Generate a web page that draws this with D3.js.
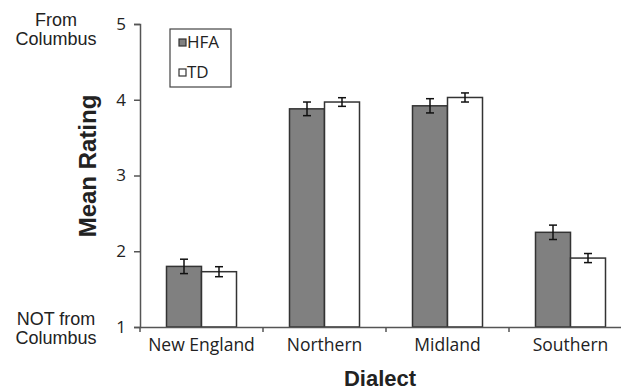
<!DOCTYPE html>
<html>
<head>
<meta charset="utf-8">
<script src="https://cdn.jsdelivr.net/npm/d3@7"></script>
<style>
  body { margin: 0; background: #fff; }
  svg { display: block; }
  text { font-family: "Open Sans", sans-serif; fill: #222; }
</style>
</head>
<body>
<svg id="chart" width="621" height="390"></svg>
<script>
const dialects = ["New England", "Northern", "Midland", "Southern"];
const groups = ["HFA", "TD"];
const hfaMeans = [1.80, 3.88, 3.92, 2.25];
const hfaErrors = [0.095, 0.09, 0.094, 0.095];
const tdMeans = [1.73, 3.97, 4.03, 1.91];
const tdErrors = [0.066, 0.057, 0.06, 0.06];
const yTicks = [1, 2, 3, 4, 5];

const fills = { HFA: "#808080", TD: "#ffffff" };

const svg = d3.select("#chart");

// scales
const x0 = d3.scaleBand().domain(dialects).range([140, 632]);
const x1 = d3.scaleBand().domain(groups).range([26.5, 96.5]);
const y = d3.scaleLinear().domain([1, 5]).range([327, 24]);

const rows = [];
dialects.forEach((d, i) => {
    rows.push({ dialect: d, group: "HFA", mean: hfaMeans[i], err: hfaErrors[i] });
    rows.push({ dialect: d, group: "TD", mean: tdMeans[i], err: tdErrors[i] });
});

// bars
svg.append("g").selectAll("rect")
    .data(rows)
    .join("rect")
    .attr("x", d => x0(d.dialect) + x1(d.group))
    .attr("y", d => y(d.mean))
    .attr("width", x1.bandwidth())
    .attr("height", d => y(1) - y(d.mean))
    .attr("fill", d => fills[d.group])
    .attr("stroke", "#333")
    .attr("stroke-width", 1.5);

// error bars
const eb = svg.append("g").attr("stroke", "#111").attr("stroke-width", 1.5);
rows.forEach(d => {
    const cx = x0(d.dialect) + x1(d.group) + x1.bandwidth() / 2;
    eb.append("line").attr("x1", cx).attr("x2", cx)
        .attr("y1", y(d.mean + d.err)).attr("y2", y(d.mean - d.err));
    [d.mean + d.err, d.mean - d.err].forEach(v => {
        eb.append("line").attr("x1", cx - 4).attr("x2", cx + 4)
            .attr("y1", y(v)).attr("y2", y(v));
    });
});

// y axis
const yAxis = svg.append("g")
    .attr("transform", "translate(140,0)")
    .call(d3.axisLeft(y).tickValues(yTicks).tickFormat(d3.format("d")).tickSize(6).tickPadding(8));
yAxis.select(".domain").attr("stroke", "#555").attr("stroke-width", 1.5);
yAxis.selectAll(".tick line").attr("stroke", "#555").attr("stroke-width", 1.5);
yAxis.selectAll(".tick text")
    .style("font-family", "'Open Sans', sans-serif")
    .style("font-size", "17px")
    .attr("fill", "#222");

// x axis
const xAxis = svg.append("g")
    .attr("transform", `translate(0,${y(1)})`)
    .call(d3.axisBottom(x0).tickSize(0).tickPadding(12));
xAxis.select(".domain").attr("stroke", "#555").attr("stroke-width", 1.5);
xAxis.selectAll(".tick text")
    .style("font-family", "'Open Sans', sans-serif")
    .style("font-size", "17.5px")
    .attr("fill", "#222");
// category separator ticks
xAxis.selectAll(".sep")
    .data(dialects)
    .join("line")
    .attr("class", "sep")
    .attr("x1", d => x0(d)).attr("x2", d => x0(d))
    .attr("y1", 0).attr("y2", 5)
    .attr("stroke", "#555").attr("stroke-width", 1.5);

// axis titles
svg.append("text")
    .attr("transform", "translate(96,166) rotate(-90)")
    .attr("text-anchor", "middle")
    .style("font-family", "'Liberation Sans', Arial, sans-serif")
    .style("font-weight", "bold")
    .style("font-size", "24px")
    .text("Mean Rating");

svg.append("text")
    .attr("x", 380).attr("y", 386)
    .attr("text-anchor", "middle")
    .style("font-family", "'Liberation Sans', Arial, sans-serif")
    .style("font-weight", "bold")
    .style("font-size", "22px")
    .text("Dialect");

// anchor labels, one text per line
const anchors = [
    { lines: ["From", "Columbus"], y: 26 },
    { lines: ["NOT from", "Columbus"], y: 325 }
];
anchors.forEach(a => {
    a.lines.forEach((l, i) => {
        svg.append("text")
            .attr("x", 56).attr("y", a.y + i * 19)
            .attr("text-anchor", "middle")
            .style("font-family", "'Liberation Sans', Arial, sans-serif")
            .style("font-size", "18px")
            .text(l);
    });
});

// legend
const legend = svg.append("g");
legend.append("rect")
    .attr("x", 170).attr("y", 29).attr("width", 61).attr("height", 58)
    .attr("fill", "#fff").attr("stroke", "#444").attr("stroke-width", 1.2);
groups.forEach((g, i) => {
    const ly = 48 + i * 30;
    legend.append("rect")
        .attr("x", 179).attr("y", ly - 9).attr("width", 7).attr("height", 7)
        .attr("fill", fills[g]).attr("stroke", "#333").attr("stroke-width", 1.2);
    legend.append("text")
        .attr("x", 187).attr("y", ly)
        .style("font-size", "17px")
        .text(g);
});
</script>
</body>
</html>
